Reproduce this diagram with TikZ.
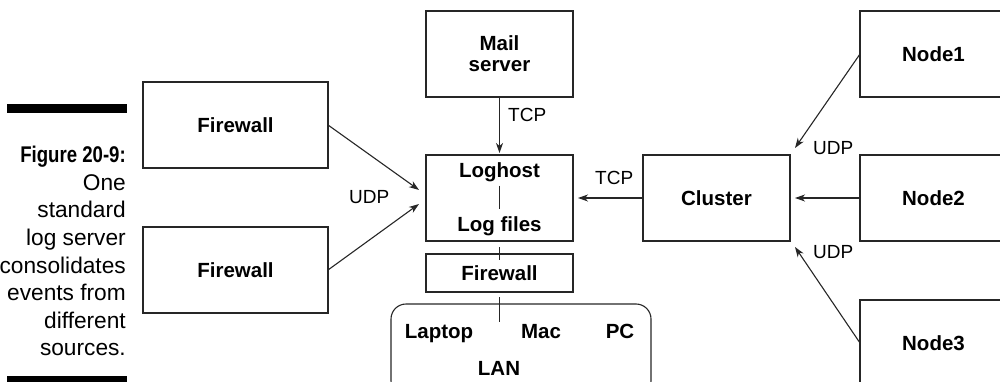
\documentclass[tikz,border=0pt]{standalone}
\usepackage{fontspec}
\setmainfont{Liberation Sans}
\newfontfamily\figfam{Liberation Sans}[FakeStretch=0.82]
\usepackage{tikz}
\usetikzlibrary{arrows.meta}
\newcommand{\boxfnt}{\fontsize{20.5}{21}\selectfont\bfseries}
\newcommand{\labfnt}{\fontsize{19}{20}\selectfont}
\newcommand{\capfnt}{\fontsize{22.7}{27.6}\selectfont}
\tikzset{
  box/.style={draw=black!85, line width=1.1pt, minimum width=147pt, minimum height=86pt,
              inner sep=0pt, outer sep=0pt, align=center, font=\boxfnt},
  widebox/.style={box, minimum width=185pt},
  flatbox/.style={box, minimum height=38pt},
  lanbox/.style={box, rounded corners=15pt, minimum width=260pt, minimum height=92pt},
  txt/.style={font=\boxfnt, inner sep=0pt},
  proto/.style={font=\labfnt, inner sep=0pt},
  flow/.style={-{Stealth[length=10pt,width=7pt,inset=3pt]}, line width=1.1pt, draw=black!85},
  tick/.style={line width=1.1pt, draw=black!85},
}

\begin{document}
\begin{tikzpicture}[x=1pt,y=-1pt]
    \useasboundingbox (0,0) rectangle (1000,382);
    % caption
    \fill (7,104) rectangle (127,113);
    \fill (7,376) rectangle (127,390);
    \node[font=\capfnt, align=right, inner sep=0pt, anchor=north east] (cap) at (126,146)
      {{\figfam\bfseries Figure 20-9:}\\ One\\ standard\\ log server\\ consolidates\\ events from\\ different\\ sources.};
    % boxes
    \node[widebox] (fwa) at (235.5,125) {Firewall};
    \node[widebox] (fwb) at (235.5,270) {Firewall};
    \node[box] (mail) at (499.5,54) {Mail\\ server};
    \node[box] (loghost) at (499.5,198) {};
    \node[txt, anchor=base] (lhtxt) at (499.5,178) {Loghost};
    \node[txt, anchor=base] (lftxt) at (499.5,231) {Log files};
    \node[flatbox] (fwc) at (499.5,273) {Firewall};
    \node[lanbox] (lan) at (521,350) {};
    \node[txt, anchor=base] (laptop) at (439,338) {Laptop};
    \node[txt, anchor=base] (mac) at (541,338) {Mac};
    \node[txt, anchor=base] (pc) at (620,338) {PC};
    \node[txt, anchor=base] (lantxt) at (499,375) {LAN};
    \coordinate (lantop) at (fwc.south |- lan.north);
    \node[box] (cluster) at (716.5,198) {Cluster};
    \node[box] (node1) at (933.5,54) {Node1};
    \node[box] (node2) at (933.5,198) {Node2};
    \node[box] (node3) at (933.5,343) {Node3};
    % protocol labels
    \node[proto, anchor=base west] (udpl) at (349,203) {UDP};
    \node[proto, anchor=base west] (tcpm) at (508,122) {TCP};
    \node[proto, anchor=base west] (tcpc) at (595,185) {TCP};
    \node[proto, anchor=base west] (udpt) at (813,155) {UDP};
    \node[proto, anchor=base west] (udpb) at (813,258) {UDP};
    % connectors
    \draw[flow] (fwa.east) -- ([shift={(-7pt,8pt)}]loghost.west);
    \draw[flow] (fwb.east) -- ([shift={(-7pt,-6pt)}]loghost.west);
    \draw[flow, shorten >=2pt] (mail.south) -- (loghost.north);
    \draw[flow, shorten >=5pt] (cluster.west) -- (loghost.east);
    \draw[flow] (node1.west) -- ([shift={(5pt,7pt)}]cluster.north east);
    \draw[flow, shorten >=5pt] (node2.west) -- (cluster.east);
    \draw[flow] (node3.west) -- ([shift={(5pt,-6pt)}]cluster.south east);
    \draw[tick, shorten <=3pt, shorten >=7pt] (lhtxt.south) -- (lftxt.north);
    \draw[tick] ([yshift=-6pt]loghost.south) -- ([yshift=-6pt]fwc.north);
    \draw[tick] ([yshift=-5pt]fwc.south) -- ([yshift=-18pt]lantop);
  \end{tikzpicture}
\end{document}
